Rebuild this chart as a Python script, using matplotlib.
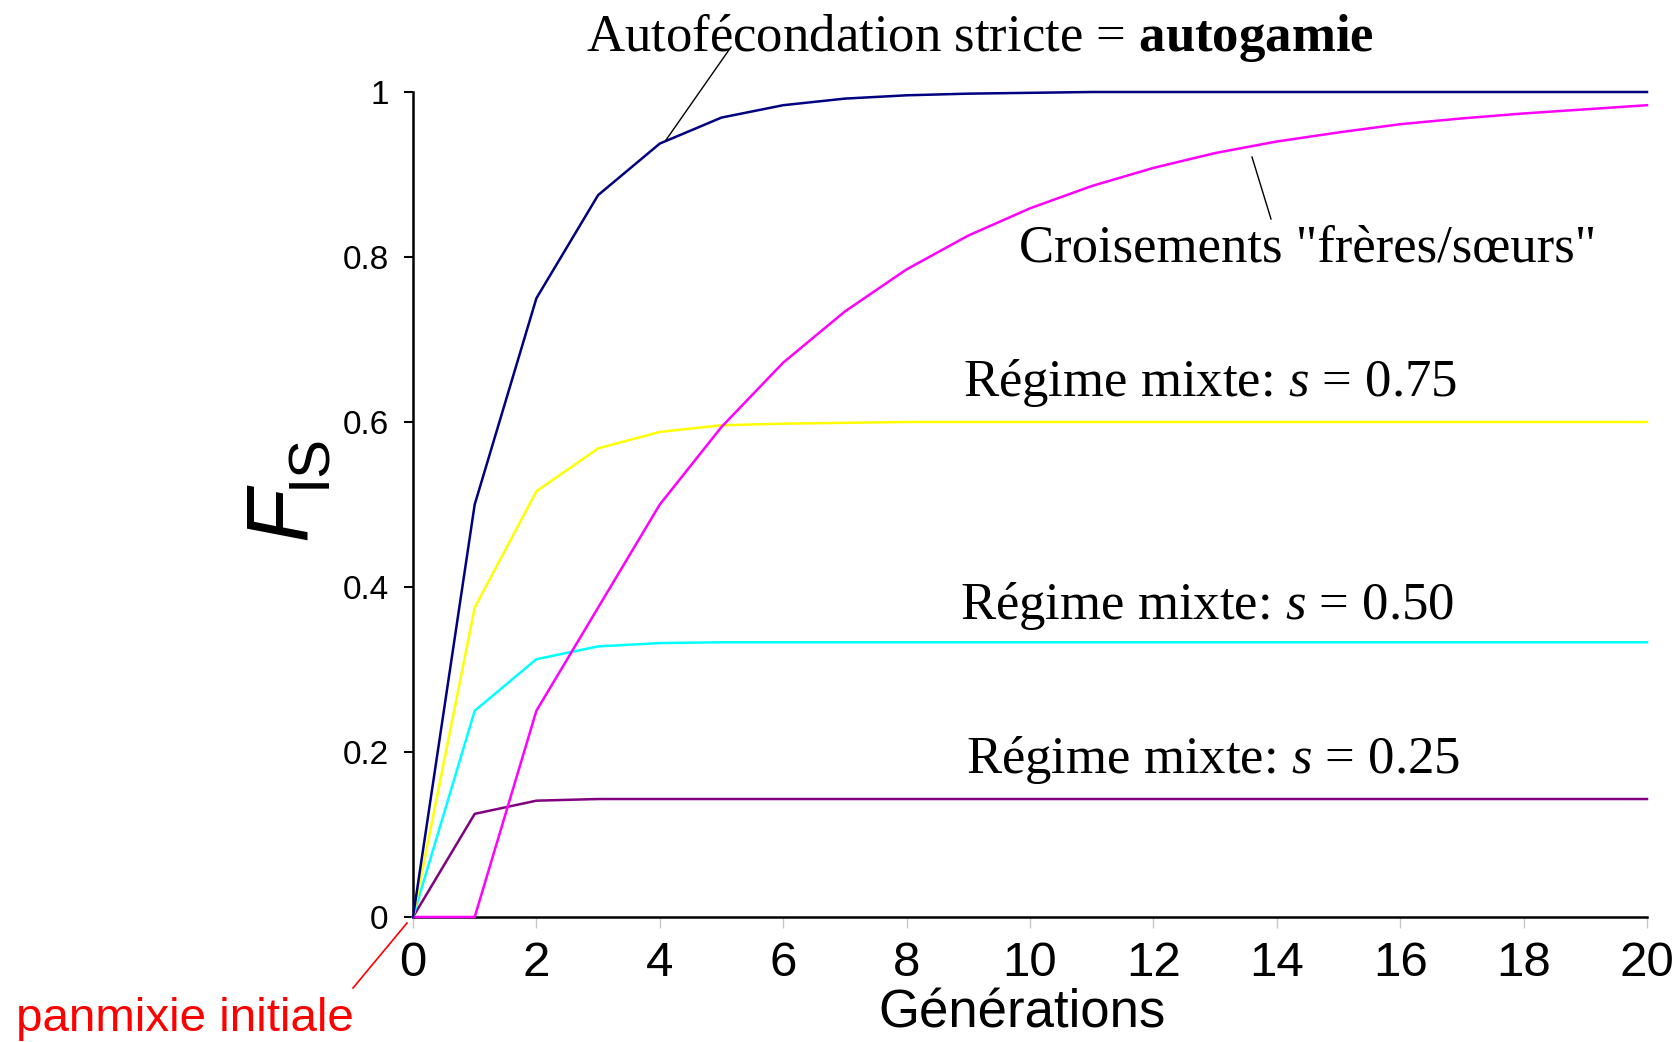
import matplotlib
matplotlib.use("Agg")
import matplotlib.pyplot as plt

W, H = 1678, 1042

generations = list(range(21))
autogamie = [0, 0.5, 0.75, 0.875, 0.9375, 0.969, 0.984, 0.992, 0.996, 0.998, 0.999,
             1.0, 1.0, 1.0, 1.0, 1.0, 1.0, 1.0, 1.0, 1.0, 1.0]
freres_soeurs = [0, 0, 0.25, 0.375, 0.5, 0.594, 0.672, 0.734, 0.785, 0.826, 0.859,
                 0.886, 0.908, 0.926, 0.940, 0.951, 0.961, 0.968, 0.974, 0.979, 0.984]
mixte_075 = [0, 0.375, 0.516, 0.568, 0.588, 0.596, 0.598, 0.599, 0.6, 0.6, 0.6,
             0.6, 0.6, 0.6, 0.6, 0.6, 0.6, 0.6, 0.6, 0.6, 0.6]
mixte_050 = [0, 0.25, 0.3125, 0.328, 0.332, 0.333, 0.333, 0.333, 0.333, 0.333, 0.333,
             0.333, 0.333, 0.333, 0.333, 0.333, 0.333, 0.333, 0.333, 0.333, 0.333]
mixte_025 = [0, 0.125, 0.141, 0.143, 0.143, 0.143, 0.143, 0.143, 0.143, 0.143, 0.143,
             0.143, 0.143, 0.143, 0.143, 0.143, 0.143, 0.143, 0.143, 0.143, 0.143]
xticks = list(range(0, 21, 2))
yticks = [0, 0.2, 0.4, 0.6, 0.8, 1]
yticklabels = ["0", "0.2", "0.4", "0.6", "0.8", "1"]

plt.rcParams['mathtext.fontset'] = 'custom'
plt.rcParams['mathtext.rm'] = 'Liberation Serif'
plt.rcParams['mathtext.it'] = 'Liberation Serif:italic'
plt.rcParams['mathtext.bf'] = 'Liberation Serif:bold'

fig = plt.figure(figsize=(W / 100, H / 100), dpi=100)
ax = fig.add_axes([413 / W, 125 / H, 1234 / W, 825 / H])

lw = 1.8
ax.plot(generations, mixte_025, color='#800080', lw=lw, clip_on=False, zorder=3)
ax.plot(generations, mixte_050, color='#00FFFF', lw=lw, clip_on=False, zorder=3)
ax.plot(generations, mixte_075, color='#FFFF00', lw=lw, clip_on=False, zorder=3)
ax.plot(generations, freres_soeurs, color='#FF00FF', lw=lw, clip_on=False, zorder=4)
ax.plot(generations, autogamie, color='#000080', lw=lw, clip_on=False, zorder=5)

ax.set_xlim(0, 20)
ax.set_ylim(0, 1)
for s in ['top', 'right']:
    ax.spines[s].set_visible(False)
for s in ['left', 'bottom']:
    ax.spines[s].set_linewidth(1.8)
    ax.spines[s].set_zorder(2)

ax.set_xticks(xticks)
ax.set_xticklabels([str(t) for t in xticks], fontsize=35.5, family='Liberation Sans')
ax.set_yticks(yticks)
ax.set_yticklabels(yticklabels, fontsize=24, family='Liberation Sans')
ax.tick_params(axis='x', length=8, width=1, color='#c8c8c8', pad=9)
ax.tick_params(axis='y', length=6.5, width=1.5, color='black', pad=11)

def px(x, y):
    return x / W, 1 - y / H

serif = 'Liberation Serif'
fs = 38
fig.text(*px(586, 51), "Autofécondation stricte = $\\mathbf{autogamie}$",
         family=serif, fontsize=fs, ha='left', va='baseline')
fig.text(*px(1019, 262), 'Croisements "frères/sœurs"',
         family=serif, fontsize=fs, ha='left', va='baseline')
fig.text(*px(963, 396), "Régime mixte: $s$ = 0.75",
         family=serif, fontsize=fs, ha='left', va='baseline')
fig.text(*px(960, 619), "Régime mixte: $s$ = 0.50",
         family=serif, fontsize=fs, ha='left', va='baseline')
fig.text(*px(966, 773), "Régime mixte: $s$ = 0.25",
         family=serif, fontsize=fs, ha='left', va='baseline')

# annotation lines
fig.add_artist(plt.Line2D([666 / W, 731 / W], [1 - 140 / H, 1 - 47 / H], color='black', lw=1))
fig.add_artist(plt.Line2D([1252 / W, 1271 / W], [1 - 157 / H, 1 - 219 / H], color='black', lw=1))
fig.add_artist(plt.Line2D([353 / W, 407 / W], [1 - 988 / H, 1 - 923 / H], color='red', lw=1.2))

fig.text(*px(16, 1031), "panmixie initiale", family='Liberation Sans', fontsize=34.2,
         color='red', ha='left', va='baseline')
fig.text(*px(1022, 1027), "Générations", family='Liberation Sans', fontsize=38,
         ha='center', va='baseline')

# F_IS label
fig.text(*px(305, 540), "F", family='Liberation Sans', fontstyle='italic', fontsize=63,
         rotation=90, rotation_mode='anchor', ha='left', va='baseline')
fig.text(*px(325, 488), "IS", family='Liberation Sans', fontsize=42,
         rotation=90, rotation_mode='anchor', ha='left', va='baseline')

fig.savefig("out.png", dpi=100)
